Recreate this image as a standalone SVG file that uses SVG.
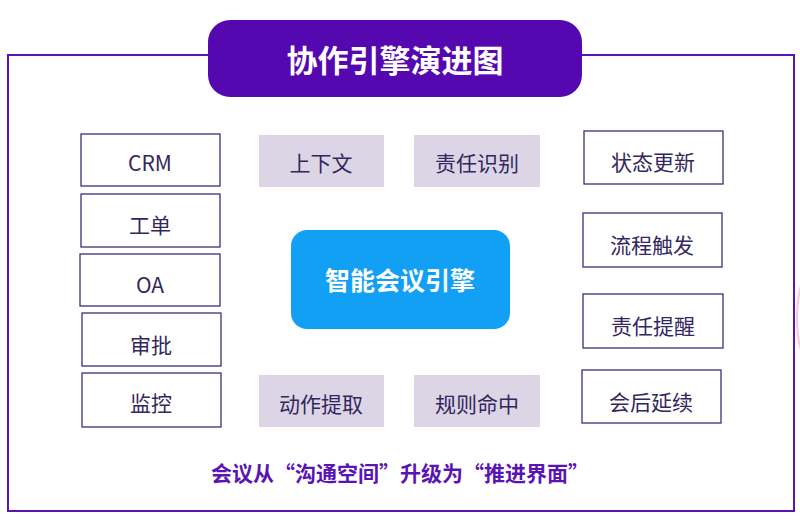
<svg xmlns="http://www.w3.org/2000/svg" width="800" height="521" viewBox="0 0 800 521">
<style>
.t{font-family:"Noto Sans CJK SC","Liberation Sans",sans-serif;font-size:21px;fill:#33275e;text-anchor:middle;dominant-baseline:central}
.w{fill:#fff;stroke:#3d2f7a;stroke-width:1.3}
.l{fill:#dcd5e6}
</style>
<rect width="800" height="521" fill="#fff"/>
<ellipse cx="815" cy="318" rx="18" ry="52" fill="none" stroke="#f8c8d8" stroke-width="2"/>
<rect x="8" y="55" width="786" height="456" fill="none" stroke="#5a14b4" stroke-width="2"/>
<g id="title"><rect x="208" y="20" width="374" height="77" rx="22" fill="#5508b0"/>
<text x="395" y="58" class="t" style="fill:#fff;font-size:31px;font-weight:bold">协作引擎演进图</text></g>
<g id="crm"><rect class="w" x="81" y="134" width="139" height="52"/><text class="t" x="150" y="162">CRM</text></g>
<g id="gd"><rect class="w" x="81" y="194" width="139" height="53"/><text class="t" x="150" y="224">工单</text></g>
<g id="oa"><rect class="w" x="80" y="254" width="140" height="52"/><text class="t" x="150" y="284">OA</text></g>
<g id="sp"><rect class="w" x="82" y="313" width="139" height="53"/><text class="t" x="151" y="344">审批</text></g>
<g id="jk"><rect class="w" x="82" y="373" width="139" height="54"/><text class="t" x="151" y="402">监控</text></g>
<g id="sxw"><rect class="l" x="259" y="135" width="125" height="52"/><text class="t" x="321" y="162">上下文</text></g>
<g id="zrsb"><rect class="l" x="414" y="135" width="126" height="52"/><text class="t" x="477" y="162">责任识别</text></g>
<g id="dztq"><rect class="l" x="259" y="375" width="125" height="52"/><text class="t" x="321" y="403">动作提取</text></g>
<g id="gzmz"><rect class="l" x="414" y="375" width="126" height="52"/><text class="t" x="477" y="403">规则命中</text></g>
<g id="zt"><rect class="w" x="584" y="131" width="139" height="53"/><text class="t" x="653" y="161">状态更新</text></g>
<g id="lc"><rect class="w" x="583" y="213" width="139" height="54"/><text class="t" x="652" y="244">流程触发</text></g>
<g id="zr"><rect class="w" x="583" y="294" width="140" height="54"/><text class="t" x="653" y="325">责任提醒</text></g>
<g id="hh"><rect class="w" x="582" y="370" width="139" height="53"/><text class="t" x="651" y="401">会后延续</text></g>
<g id="center"><rect x="291" y="230" width="219" height="99" rx="16" fill="#12a0f5"/>
<text class="t" x="400" y="279" style="fill:#fff;font-size:25px;font-weight:bold">智能会议引擎</text></g>
<g id="connectors"></g>
<text class="t" x="400" y="472" style="fill:#5a14b4;font-weight:bold;font-size:21px">会议从“沟通空间”升级为“推进界面”</text>
</svg>
